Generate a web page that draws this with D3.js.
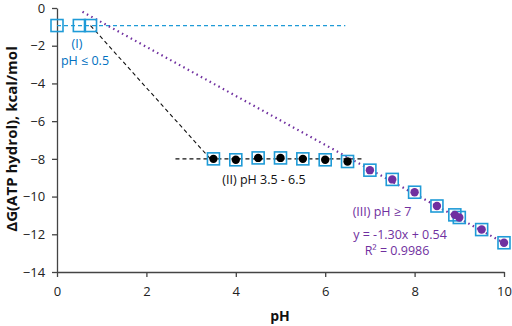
<!DOCTYPE html>
<html lang="en">
<head>
<meta charset="UTF-8">
<title>ATP hydrolysis vs pH</title>
<script src="https://d3js.org/d3.v7.min.js"></script>
<style>
  body { margin: 0; background: #fff; }
  svg text { font-family: "Open Sans", "Liberation Sans", sans-serif; }
  .tick text { font-size: 13px; fill: #222; }
</style>
</head>
<body>
<svg width="512" height="326"></svg>
<script>
// region I (empty squares), region II (black dots), region III (purple dots)
const phI = [0, 0.5, 0.75];
const dgI = [-0.93, -0.93, -0.93];
const phII = [3.5, 4.0, 4.5, 5.0, 5.5, 6.0, 6.5];
const dgII = [-8.0, -8.05, -7.95, -7.95, -8.0, -8.05, -8.14];
const phIII = [7.0, 7.5, 8.0, 8.5, 8.9, 9.0, 9.5, 10.0];
const dgIII = [-8.6, -9.09, -9.77, -10.5, -10.97, -11.11, -11.75, -12.45];
const fitSlope = -1.30, fitIntercept = 0.54;
const xTicks = [0, 2, 4, 6, 8, 10];
const yTicks = [0, -2, -4, -6, -8, -10, -12, -14];

const svg = d3.select("svg");
const margin = {top: 8, right: 8, bottom: 54, left: 57};
const width = 512 - margin.left - margin.right;
const height = 326 - margin.top - margin.bottom;
const g = svg.append("g").attr("transform", `translate(${margin.left},${margin.top})`);

const x = d3.scaleLinear().domain([0, 10]).range([0, width]);
const y = d3.scaleLinear().domain([-14, 0]).range([height, 0]);

const blue = "#1f9bd7", darkBlue = "#0070c0", purple = "#7030a0";

// axes
const xAxis = g.append("g").attr("transform", `translate(0,${height})`)
    .call(d3.axisBottom(x).tickValues(xTicks).tickSize(5).tickSizeOuter(0));
const yAxis = g.append("g")
    .call(d3.axisLeft(y).tickValues(yTicks).tickSize(5).tickSizeOuter(0));
[xAxis, yAxis].forEach(a => {
    a.select(".domain").attr("stroke", "#444").attr("stroke-width", 1.3);
    a.selectAll(".tick line").attr("stroke", "#444").attr("stroke-width", 1.3);
});
xAxis.selectAll(".tick text").attr("dy", "1.2em");
yAxis.selectAll(".tick text").attr("dx", "-0.3em");

// lines
const line = d3.line().x(d => x(d[0])).y(d => y(d[1]));
g.append("path").datum([[0, dgI[0]], [6.45, dgI[0]]])
    .attr("d", line).attr("fill", "none").attr("stroke", blue)
    .attr("stroke-width", 1.3).attr("stroke-dasharray", "4,3");
g.append("path").datum([[phI[2], dgI[2]], [3.43, -8.0]])
    .attr("d", line).attr("fill", "none").attr("stroke", "#111")
    .attr("stroke-width", 1.1).attr("stroke-dasharray", "4,3");
g.append("path").datum([[2.65, -8.0], [6.85, -8.0]])
    .attr("d", line).attr("fill", "none").attr("stroke", "#111")
    .attr("stroke-width", 1.1).attr("stroke-dasharray", "4,3");
g.append("path").datum([0.57, 10].map(p => [p, fitSlope * p + fitIntercept]))
    .attr("d", line).attr("fill", "none").attr("stroke", purple)
    .attr("stroke-width", 2.2).attr("stroke-dasharray", "1.5,3.5");

// squares
const allPts = phI.map((p, i) => [p, dgI[i]])
    .concat(phII.map((p, i) => [p, dgII[i]]))
    .concat(phIII.map((p, i) => [p, dgIII[i]]));
const sq = 12;
g.selectAll(".sq").data(allPts).enter().append("rect")
    .attr("class", "sq")
    .attr("x", d => x(d[0]) - sq / 2).attr("y", d => y(d[1]) - sq / 2)
    .attr("width", sq).attr("height", sq)
    .attr("fill", "none").attr("stroke", blue).attr("stroke-width", 1.6);

// dots
g.selectAll(".dII").data(phII).enter().append("circle")
    .attr("cx", d => x(d)).attr("cy", (d, i) => y(dgII[i])).attr("r", 4.2)
    .attr("fill", "#000");
g.selectAll(".dIII").data(phIII).enter().append("circle")
    .attr("cx", d => x(d)).attr("cy", (d, i) => y(dgIII[i])).attr("r", 4.2)
    .attr("fill", purple);

// labels
const lab = (txt, px, py, col) => svg.append("text").attr("x", px).attr("y", py)
    .attr("text-anchor", "middle").attr("font-size", 12.5).attr("fill", col).text(txt);
lab("(I)", 77, 48, darkBlue);
lab("pH ≤ 0.5", 85, 65, darkBlue);
lab("(II) pH 3.5 - 6.5", 264, 184, "#111");
lab("(III) pH ≥ 7", 382, 216, purple);
lab("y = -1.30x + 0.54", 400, 239, purple);
lab("R² = 0.9986", 397, 255, purple);

// axis titles
svg.append("text").attr("x", 280).attr("y", 321).attr("text-anchor", "middle")
    .attr("font-size", 14).attr("font-weight", "bold").attr("fill", "#111").text("pH");
svg.append("text").attr("transform", "translate(17,139) rotate(-90)")
    .attr("text-anchor", "middle").attr("font-size", 15).attr("font-weight", "bold")
    .attr("fill", "#111").text("ΔG(ATP hydrol), kcal/mol");
</script>
</body>
</html>
